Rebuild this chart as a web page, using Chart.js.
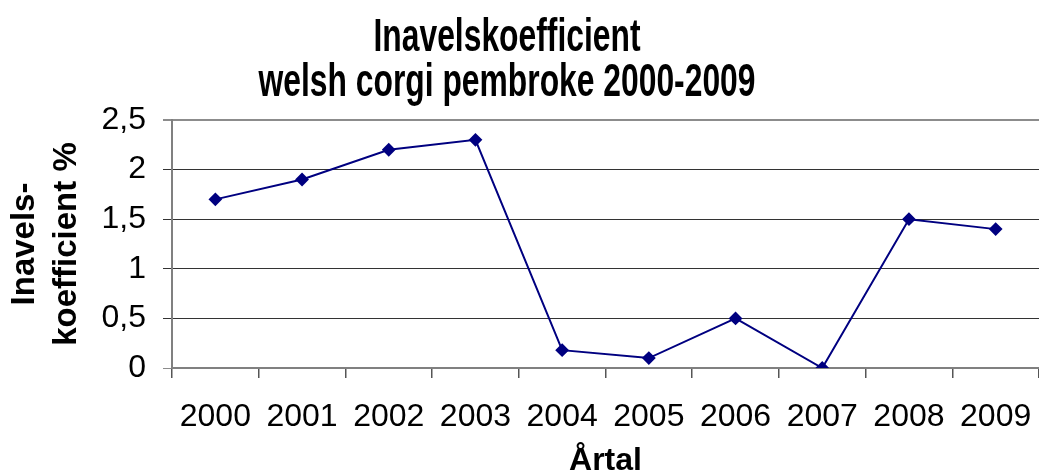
<!DOCTYPE html>
<html>
<head>
<meta charset="utf-8">
<script src="https://cdn.jsdelivr.net/npm/chart.js@4"></script>
<style>
  html, body { margin: 0; padding: 0; background: #fff; }
  #wrap { width: 1039px; height: 470px; }
</style>
</head>
<body>
<div id="wrap"><canvas id="chart" width="1039" height="470"></canvas></div>
<script>
const years = ['2000', '2001', '2002', '2003', '2004', '2005', '2006', '2007', '2008', '2009'];
const inbreeding = [1.7, 1.9, 2.2, 2.3, 0.18, 0.1, 0.5, 0, 1.5, 1.4];
const titleLines = ['Inavelskoefficient', 'welsh corgi pembroke 2000-2009'];
const yTitleLines = ['Inavels-', 'koefficient %'];
const xTitle = 'Årtal';

const sans = "'Liberation Sans', Arial, sans-serif";

// the original title is squeezed sideways, so draw it ourselves with a horizontal scale
const squeezedTitle = {
  id: 'squeezedTitle',
  afterDraw(chart) {
    const ctx = chart.ctx;
    ctx.save();
    ctx.font = "bold 47px " + sans;
    ctx.fillStyle = '#000';
    ctx.textAlign = 'center';
    ctx.textBaseline = 'alphabetic';
    const cx = 507, sx = 0.677;
    const baselines = [51, 96];
    titleLines.forEach((t, i) => {
      ctx.save();
      ctx.translate(cx, baselines[i]);
      ctx.scale(sx, 1);
      ctx.fillText(t, 0, 0);
      ctx.restore();
    });
    ctx.restore();
  }
};

new Chart(document.getElementById('chart'), {
  type: 'line',
  data: {
    labels: years,
    datasets: [{
      data: inbreeding,
      borderColor: '#000080',
      backgroundColor: '#000080',
      borderWidth: 2,
      pointStyle: 'rectRot',
      pointRadius: 5.5,
      pointHoverRadius: 5.5,
      tension: 0
    }]
  },
  plugins: [squeezedTitle],
  options: {
    responsive: false,
    animation: false,
    layout: {autoPadding: false, padding: {left: 0, right: -3, top: 120, bottom: 0}},
    plugins: {
      legend: {display: false},
      tooltip: {enabled: false},
      title: {display: false}
    },
    scales: {
      x: {
        offset: true,
        afterFit: s => { s.height = 102; s.paddingLeft = 0; s.paddingRight = 0; },
        grid: {display: true, drawOnChartArea: false, offset: true, tickLength: 10, color: '#555', lineWidth: 1.5},
        border: {color: '#808080', width: 2},
        ticks: {color: '#000', font: {family: sans, size: 32}, padding: 20, maxRotation: 0, autoSkip: false},
        title: {
          display: true, text: xTitle, color: '#000',
          font: {family: sans, size: 32, weight: 'bold', lineHeight: 1},
          padding: {top: 0, bottom: -7}
        }
      },
      y: {
        min: 0, max: 2.5,
        afterFit: s => { s.width = 172; },
        grid: {
          color: c => (c.tick.value === 0 || c.tick.value === 2.5) ? '#8c8c8c' : '#333',
          lineWidth: c => c.tick.value === 2.5 ? 2 : 1,
          tickLength: 9
        },
        border: {color: '#808080', width: 2},
        ticks: {
          stepSize: 0.5, color: '#000', padding: 17,
          font: {family: sans, size: 32},
          callback: v => String(v).replace('.', ',')
        },
        title: {
          display: true, text: yTitleLines, color: '#000',
          font: {family: sans, size: 33, weight: 'bold', lineHeight: '42px'},
          padding: {top: 4, bottom: 0}
        }
      }
    }
  }
});
</script>
</body>
</html>
